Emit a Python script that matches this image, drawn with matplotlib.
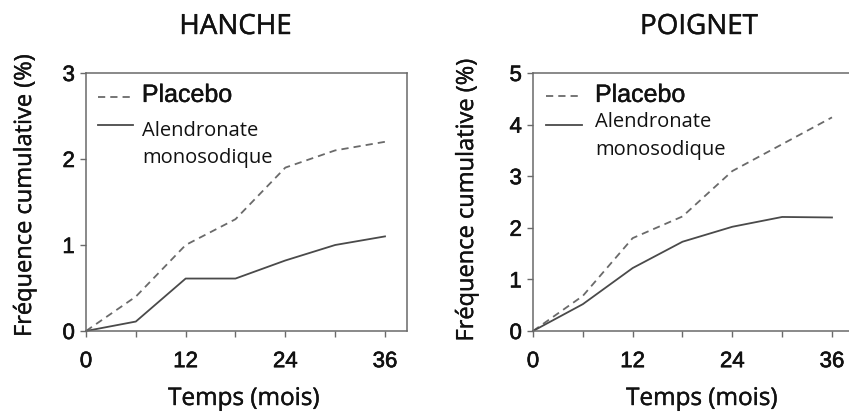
import matplotlib
matplotlib.use("Agg")
import matplotlib.pyplot as plt
import matplotlib.patheffects as pe
from matplotlib.ticker import FixedLocator

# ---- data ----
months = [0, 6, 12, 18, 24, 30, 36]
hanche_placebo = [0, 0.40, 1.00, 1.30, 1.90, 2.10, 2.20]
hanche_alendronate = [0, 0.11, 0.61, 0.61, 0.82, 1.00, 1.10]
poignet_placebo = [0, 0.68, 1.80, 2.22, 3.10, 3.62, 4.14]
poignet_alendronate = [0, 0.52, 1.22, 1.73, 2.02, 2.21, 2.20]
x_major = [0, 12, 24, 36]
x_minor = [6, 18, 30]
titles = ["HANCHE", "POIGNET"]
xlabel = "Temps (mois)"
ylabel = "Fréquence cumulative (%)"
leg_placebo = "Placebo"
leg_alen = ["Alendronate", "monosodique"]

W, H = 849, 413
fig = plt.figure(figsize=(W / 100, H / 100), dpi=100)

SANS = ["Liberation Sans", "DejaVu Sans"]
HUM = ["Open Sans", "DejaVu Sans"]
spine_c = "#6a6a6a"
line_c = "#4a4a4a"
dash_c = "#6a6a6a"
txt_c = "#111111"
heavy = [pe.withStroke(linewidth=0.45, foreground=txt_c)]
light = [pe.withStroke(linewidth=0.3, foreground=txt_c)]

axes_px = [(86, 73, 321, 258), (533, 73, 321, 258)]
panels = [
    (hanche_placebo, hanche_alendronate, 3, [0, 1, 2, 3]),
    (poignet_placebo, poignet_alendronate, 5, [0, 1, 2, 3, 4, 5]),
]
legend_pos = [
    dict(lx0=0.037, lx1=0.146, ly_d=0.907, ly_s=0.798, tx=0.174, ty_p=0.888, ty_a=0.756, ty_m=0.651),
    dict(lx0=0.040, lx1=0.153, ly_d=0.911, ly_s=0.798, tx=0.193, ty_p=0.888, ty_a=0.791, ty_m=0.682),
]
title_x = [235.5, 699]
xlabel_x = [244, 702]
ylabel_x = [25, 467]
ylabel_y = [195.5, 200]

for i, ((x0, y0, w, h), (plac, alen, ymax, yt), lp) in enumerate(zip(axes_px, panels, legend_pos)):
    ax = fig.add_axes([x0 / W, (H - y0 - h) / H, w / W, h / H])
    ax.plot(months, plac, color=dash_c, lw=1.3, dashes=(4.0, 2.8), clip_on=False)
    ax.plot(months, alen, color=line_c, lw=1.3, clip_on=False)
    ax.set_xlim(0, 38.65)
    ax.set_ylim(0, ymax)
    ax.xaxis.set_major_locator(FixedLocator(x_major))
    ax.xaxis.set_minor_locator(FixedLocator(x_minor))
    ax.set_yticks(yt)
    ax.tick_params(axis="both", which="both", direction="out", length=4.5,
                   width=1.0, color=spine_c)
    ax.tick_params(axis="x", which="major", pad=10)
    ax.tick_params(axis="y", which="major", pad=3.5)
    for lab in ax.get_xticklabels() + ax.get_yticklabels():
        lab.set_fontfamily(SANS)
        lab.set_fontsize(16)
        lab.set_color(txt_c)
        lab.set_path_effects(heavy)
    for s in ax.spines.values():
        s.set_color(spine_c)
        s.set_linewidth(1.1)

    # legend drawn by hand
    ax.plot([lp["lx0"], lp["lx1"]], [lp["ly_d"]] * 2, transform=ax.transAxes,
            color=dash_c, lw=1.3, dashes=(4.0, 2.8))
    ax.plot([lp["lx0"], lp["lx1"]], [lp["ly_s"]] * 2, transform=ax.transAxes,
            color=line_c, lw=1.3)
    ax.text(lp["tx"], lp["ty_p"], leg_placebo, transform=ax.transAxes,
            family=SANS, fontsize=18, va="baseline", ha="left", color=txt_c,
            path_effects=light)
    ax.text(lp["tx"], lp["ty_a"], leg_alen[0], transform=ax.transAxes,
            family=HUM, fontsize=14.5, va="baseline", ha="left", color=txt_c)
    ax.text(lp["tx"], lp["ty_m"], leg_alen[1], transform=ax.transAxes,
            family=HUM, fontsize=14.5, va="baseline", ha="left", color=txt_c)

    fig.text(title_x[i] / W, 1 - 34 / H, titles[i], family=HUM, fontsize=20,
             ha="center", va="baseline", color=txt_c, path_effects=light)
    fig.text(xlabel_x[i] / W, 1 - 405 / H, xlabel, family=HUM, fontsize=17.5,
             ha="center", va="baseline", color=txt_c, path_effects=light)
    fig.text(ylabel_x[i] / W, 1 - ylabel_y[i] / H, ylabel, family=HUM, fontsize=17,
             rotation=90, ha="center", va="center", color=txt_c, path_effects=light)

fig.savefig("out.png", dpi=100)
